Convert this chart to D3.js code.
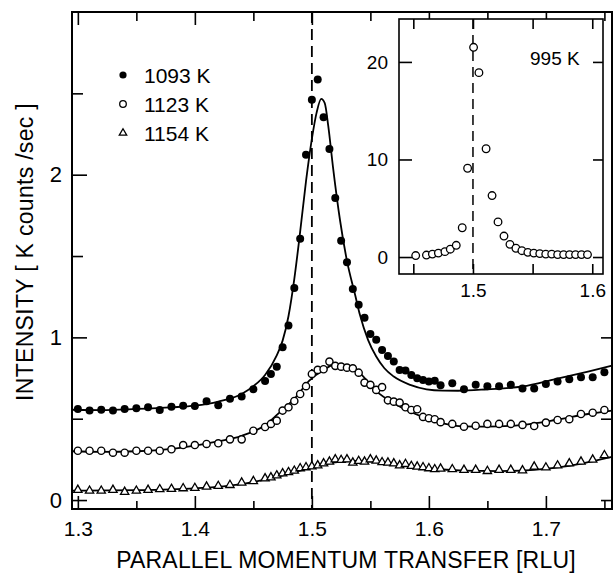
<!DOCTYPE html>
<html>
<head>
<meta charset="utf-8">
<script src="https://cdn.jsdelivr.net/npm/d3@7"></script>
<style>
  body { margin: 0; background: #fff; }
  svg { display: block; font-family: "Liberation Sans", Arial, sans-serif; }
  .axis path { display: none; }
  .axis line { stroke: #000; stroke-width: 1.6; }
  .axis text { fill: #000; }
</style>
</head>
<body>
<svg id="chart" width="613" height="574"></svg>
<script>
// ---- data ----
var xMain = [1.30,1.31,1.32,1.33,1.34,1.35,1.36,1.37,1.38,1.39,1.40,1.41,1.42,1.43,1.44,1.45,1.46,
  1.465,1.47,1.475,1.48,1.485,1.49,1.495,1.50,1.505,1.51,1.515,1.52,1.525,1.53,1.535,1.54,1.545,1.55,
  1.555,1.56,1.565,1.57,1.575,1.58,1.585,1.59,1.595,1.60,1.605,1.61,
  1.62,1.63,1.64,1.65,1.66,1.67,1.68,1.69,1.70,1.71,1.72,1.73,1.74,1.75];

var y1093 = [0.56,0.55,0.555,0.55,0.56,0.564,0.57,0.554,0.574,0.58,0.578,0.607,0.583,0.623,0.636,0.681,0.732,
  0.775,0.82,0.94,1.073,1.303,1.606,2.123,2.46,2.585,2.353,2.158,1.857,1.594,1.462,1.297,1.2,1.12,1.02,
  0.985,0.923,0.886,0.851,0.80,0.796,0.769,0.749,0.738,0.728,0.734,0.705,
  0.718,0.681,0.708,0.70,0.70,0.708,0.685,0.685,0.714,0.728,0.743,0.755,0.755,0.786];

var y1123 = [0.303,0.303,0.303,0.291,0.291,0.303,0.303,0.303,0.312,0.338,0.338,0.345,0.349,0.373,0.373,0.426,0.449,
  0.468,0.488,0.55,0.57,0.609,0.652,0.70,0.775,0.80,0.804,0.851,0.825,0.82,0.814,0.81,0.783,0.722,0.708,
  0.677,0.694,0.613,0.605,0.599,0.57,0.554,0.558,0.511,0.503,0.497,0.479,
  0.468,0.451,0.457,0.468,0.468,0.468,0.462,0.455,0.476,0.492,0.497,0.529,0.537,0.554];

var y1154 = [0.062,0.057,0.057,0.062,0.05,0.057,0.062,0.066,0.068,0.072,0.074,0.082,0.086,0.092,0.107,0.116,0.133,
  0.139,0.151,0.164,0.171,0.18,0.195,0.201,0.207,0.213,0.225,0.236,0.25,0.246,0.25,0.23,0.24,0.236,0.25,
  0.242,0.232,0.23,0.225,0.213,0.221,0.209,0.205,0.201,0.195,0.189,0.193,
  0.189,0.185,0.185,0.178,0.185,0.185,0.182,0.205,0.20,0.212,0.225,0.236,0.248,0.275];

// fitted lines
var fitX1093 = [1.295,1.32,1.35,1.38,1.40,1.42,1.44,1.45,1.46,1.47,1.475,1.48,1.485,1.49,1.495,1.50,1.504,1.508,
  1.511,1.514,1.518,1.524,1.53,1.537,1.541,1.548,1.555,1.562,1.57,1.584,1.598,1.612,1.625,1.65,1.68,1.708,1.736,1.7565];
var fitY1093 = [0.555,0.553,0.56,0.57,0.58,0.605,0.652,0.70,0.769,0.89,0.98,1.13,1.36,1.65,1.96,2.22,2.38,2.466,
  2.44,2.30,2.05,1.723,1.47,1.26,1.14,0.985,0.882,0.81,0.759,0.708,0.681,0.673,0.672,0.681,0.698,0.743,0.79,0.826];

var fitX1123 = [1.295,1.32,1.35,1.38,1.40,1.42,1.44,1.46,1.474,1.486,1.498,1.51,1.521,1.53,1.541,1.555,1.57,
  1.584,1.598,1.612,1.626,1.65,1.68,1.708,1.736,1.7565];
var fitY1123 = [0.30,0.296,0.30,0.315,0.335,0.36,0.395,0.46,0.55,0.63,0.735,0.80,0.835,0.83,0.78,0.67,0.595,
  0.543,0.503,0.472,0.455,0.451,0.462,0.492,0.529,0.55];

var fitX1154 = [1.295,1.35,1.40,1.44,1.47,1.50,1.52,1.535,1.55,1.57,1.60,1.63,1.66,1.69,1.72,1.7565];
var fitY1154 = [0.058,0.061,0.072,0.098,0.142,0.2,0.232,0.24,0.236,0.22,0.194,0.181,0.178,0.186,0.21,0.265];

// inset, 995 K
var xInset = [1.452,1.461,1.466,1.471,1.4765,1.481,1.486,1.491,1.4955,1.5005,1.505,1.511,1.516,1.521,1.526,
  1.531,1.536,1.541,1.546,1.551,1.556,1.561,1.566,1.571,1.576,1.581,1.586,1.591,1.596];
var yInset = [0.15,0.2,0.3,0.4,0.55,0.8,1.2,3.0,9.1,21.5,18.9,11.1,6.3,3.6,2.15,1.3,0.9,0.65,0.48,0.4,
  0.35,0.3,0.3,0.25,0.25,0.25,0.25,0.25,0.25];

var legendLabels = ["1093 K", "1123 K", "1154 K"];
var xTickLabels = [1.3, 1.4, 1.5, 1.6, 1.7];
var yTickLabels = [0, 1, 2];
var insetXLabels = [1.5, 1.6];
var insetYLabels = [0, 10, 20];

// ---- layout ----
var box = {left:72, right:612, top:12, bottom:509};
var ibox = {left:399, right:603, top:19, bottom:274};

var svg = d3.select("#chart");

var xScale = d3.scaleLinear().domain([1.295, 1.7565]).range([box.left, box.right]);
var yScale = d3.scaleLinear().domain([-0.055, 3.0]).range([box.bottom, box.top]);

var zip = function(xs, ys) { return xs.map(function(x, i) { return [x, ys[i]]; }); };

var addAxis = function(g, axis, tx, ty, fontSize)
{
    var a = g.append("g")
        .attr("class", "axis")
        .attr("transform", "translate(" + tx + "," + ty + ")")
        .call(axis);
    a.selectAll("text").style("font-size", fontSize + "px");
    return a;
}

// main axes: major and minor ticks, all pointing inward
var main = svg.append("g");
addAxis(main, d3.axisBottom(xScale).tickValues(xTickLabels).tickSize(-13).tickPadding(12)
    .tickFormat(d3.format(".1f")), 0, box.bottom, 21);
addAxis(main, d3.axisBottom(xScale).tickValues([1.35,1.45,1.55,1.65,1.75]).tickSize(-8).tickFormat(""), 0, box.bottom, 21);
addAxis(main, d3.axisTop(xScale).tickValues([1.3,1.4,1.5,1.6,1.7]).tickSize(-13).tickFormat(""), 0, box.top, 21);
addAxis(main, d3.axisTop(xScale).tickValues([1.35,1.45,1.55,1.65,1.75]).tickSize(-9).tickFormat(""), 0, box.top, 21);
addAxis(main, d3.axisLeft(yScale).tickValues(yTickLabels).tickSize(-15).tickPadding(10)
    .tickFormat(d3.format("d")), box.left, 0, 22);
addAxis(main, d3.axisLeft(yScale).tickValues([0.5,1.5,2.5]).tickSize(-11).tickFormat(""), box.left, 0, 22);
addAxis(main, d3.axisRight(yScale).tickValues([0,0.5,1]).tickSize(-11).tickFormat(""), box.right, 0, 22);

main.append("rect")
    .attr("x", box.left).attr("y", box.top)
    .attr("width", box.right - box.left).attr("height", box.bottom - box.top)
    .attr("fill", "none").attr("stroke", "#000").attr("stroke-width", 2);

main.append("line")
    .attr("x1", xScale(1.5)).attr("x2", xScale(1.5))
    .attr("y1", box.top).attr("y2", box.bottom)
    .attr("stroke", "#000").attr("stroke-width", 1.8)
    .attr("stroke-dasharray", "11,6");

// axis titles
svg.append("text")
    .attr("x", 346).attr("y", 568)
    .attr("text-anchor", "middle")
    .style("font-size", "23px")
    .style("letter-spacing", "0.2px")
    .text("PARALLEL MOMENTUM TRANSFER [RLU]");

svg.append("text")
    .attr("transform", "translate(33,252) rotate(-90)")
    .attr("text-anchor", "middle")
    .style("font-size", "23px")
    .style("letter-spacing", "0.3px")
    .text("INTENSITY [ K counts /sec ]");

// fitted lines
var line = d3.line()
    .x(function(d) { return xScale(d[0]); })
    .y(function(d) { return yScale(d[1]); })
    .curve(d3.curveMonotoneX);

[zip(fitX1093, fitY1093), zip(fitX1123, fitY1123), zip(fitX1154, fitY1154)].forEach(function(fit)
{
    main.append("path")
        .datum(fit)
        .attr("d", line)
        .attr("fill", "none")
        .attr("stroke", "#000")
        .attr("stroke-width", 1.8);
});

// markers
var tri = d3.symbol().type(d3.symbolTriangle).size(30);

main.append("g").selectAll("circle")
    .data(zip(xMain, y1093))
    .enter()
    .append("circle")
    .attr("cx", function(d) { return xScale(d[0]); })
    .attr("cy", function(d) { return yScale(d[1]); })
    .attr("r", 4)
    .attr("fill", "#000");

main.append("g").selectAll("circle")
    .data(zip(xMain, y1123))
    .enter()
    .append("circle")
    .attr("cx", function(d) { return xScale(d[0]); })
    .attr("cy", function(d) { return yScale(d[1]); })
    .attr("r", 3.6)
    .attr("fill", "#fff")
    .attr("stroke", "#000")
    .attr("stroke-width", 1.4);

main.append("g").selectAll("path")
    .data(zip(xMain, y1154))
    .enter()
    .append("path")
    .attr("d", tri)
    .attr("transform", function(d) { return "translate(" + xScale(d[0]) + "," + yScale(d[1]) + ")"; })
    .attr("fill", "#fff")
    .attr("stroke", "#000")
    .attr("stroke-width", 1.3);

// legend
var legend = svg.append("g");
var legendY = [75, 104, 133];
legend.append("circle").attr("cx", 123).attr("cy", legendY[0]).attr("r", 3.6).attr("fill", "#000");
legend.append("circle").attr("cx", 123).attr("cy", legendY[1]).attr("r", 3.3)
    .attr("fill", "#fff").attr("stroke", "#000").attr("stroke-width", 1.3);
legend.append("path").attr("d", d3.symbol().type(d3.symbolTriangle).size(24))
    .attr("transform", "translate(123," + legendY[2] + ")")
    .attr("fill", "#fff").attr("stroke", "#000").attr("stroke-width", 1.3);
legend.selectAll("text")
    .data(legendLabels)
    .enter()
    .append("text")
    .attr("x", 144)
    .attr("y", function(d, i) { return legendY[i] + 8; })
    .style("font-size", "21px")
    .text(function(d) { return d; });

// ---- inset ----
var ix = d3.scaleLinear().domain([1.438, 1.609]).range([ibox.left, ibox.right]);
var iy = d3.scaleLinear().domain([-1.74, 24.4]).range([ibox.bottom, ibox.top]);

var inset = svg.append("g");
inset.append("rect")
    .attr("x", ibox.left).attr("y", ibox.top)
    .attr("width", ibox.right - ibox.left).attr("height", ibox.bottom - ibox.top)
    .attr("fill", "#fff");

var iTicks = [1.45, 1.5, 1.55, 1.6];
addAxis(inset, d3.axisBottom(ix).tickValues(iTicks).tickSize(-10).tickPadding(10)
    .tickFormat(function(d) { return insetXLabels.indexOf(d) >= 0 ? d3.format(".1f")(d) : ""; }),
    0, ibox.bottom, 19);
addAxis(inset, d3.axisTop(ix).tickValues(iTicks).tickSize(-10).tickFormat(""), 0, ibox.top, 19);
addAxis(inset, d3.axisLeft(iy).tickValues(insetYLabels).tickSize(-13).tickPadding(11)
    .tickFormat(d3.format("d")), ibox.left, 0, 19);
addAxis(inset, d3.axisRight(iy).tickValues(insetYLabels).tickSize(-10).tickFormat(""), ibox.right, 0, 19);

inset.append("rect")
    .attr("x", ibox.left).attr("y", ibox.top)
    .attr("width", ibox.right - ibox.left).attr("height", ibox.bottom - ibox.top)
    .attr("fill", "none").attr("stroke", "#000").attr("stroke-width", 1.6);

inset.append("line")
    .attr("x1", ix(1.5)).attr("x2", ix(1.5))
    .attr("y1", ibox.top).attr("y2", ibox.bottom)
    .attr("stroke", "#000").attr("stroke-width", 1.5)
    .attr("stroke-dasharray", "10,6");

inset.append("g").selectAll("circle")
    .data(zip(xInset, yInset))
    .enter()
    .append("circle")
    .attr("cx", function(d) { return ix(d[0]); })
    .attr("cy", function(d) { return iy(d[1]); })
    .attr("r", 3.8)
    .attr("fill", "#fff")
    .attr("stroke", "#000")
    .attr("stroke-width", 1.3);

inset.append("text")
    .attr("x", 530).attr("y", 65)
    .style("font-size", "19px")
    .text("995 K");
</script>
</body>
</html>
